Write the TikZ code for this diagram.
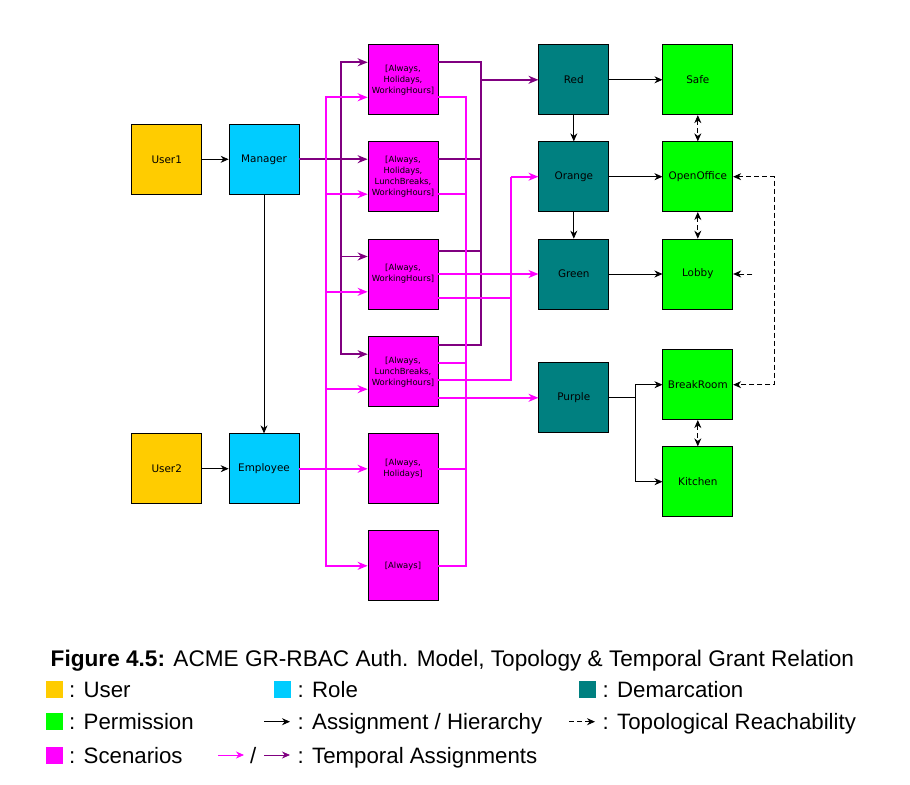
\documentclass[tikz,border=0pt]{standalone}
\usepackage{fontspec}
\setmainfont{Liberation Sans}
\newfontfamily\boxfont{DejaVu Sans}
\usetikzlibrary{arrows.meta}
\definecolor{usercol}{RGB}{255,204,0}
\definecolor{rolecol}{RGB}{0,204,255}
\definecolor{demcol}{RGB}{0,128,128}
\definecolor{permcol}{RGB}{0,255,0}
\definecolor{scencol}{RGB}{255,0,255}
\definecolor{tpurple}{RGB}{128,0,128}

\begin{document}
\begin{tikzpicture}[x=0.3mm, y=-0.3mm,
  >={Stealth[length=2.4mm,width=2.1mm]},
  box/.style={draw, line width=0.6pt, minimum width=21mm, minimum height=21mm, inner sep=0.5mm, font=\boxfont\fontsize{8.9}{10}\selectfont},
  scen/.style={box, fill=scencol, align=center, font=\boxfont\fontsize{7.2}{9.4}\selectfont},
  assign/.style={line width=0.7pt, ->},
  reach/.style={line width=0.7pt, dash pattern=on 1.5mm off 0.9mm},
  temppur/.style={draw=tpurple, line width=1.7pt, >={Stealth[length=3mm,width=2.4mm]}},
  tempmag/.style={draw=scencol, line width=1.7pt, >={Stealth[length=3mm,width=2.4mm]}},
  legsq/.style={minimum size=5.1mm, inner sep=0},
  legtxt/.style={anchor=base west, inner sep=0, font=\fontsize{19}{23}\selectfont}]
\useasboundingbox (0,0) rectangle (910,785);

\node [box, fill=usercol] (user1) at (166.7,159.3) {User1};
\node [box, fill=rolecol] (manager) at (264,159.3) {Manager};
\node [box, fill=usercol] (user2) at (166.7,468.7) {User2};
\node [box, fill=rolecol] (employee) at (264,468.7) {Employee};

\node [scen] (s1) at (403,79.8) {[Always,\\Holidays,\\WorkingHours]};
\node [scen] (s2) at (403,176.7) {[Always,\\Holidays,\\LunchBreaks,\\WorkingHours]};
\node [scen] (s3) at (403,274) {[Always,\\WorkingHours]};
\node [scen] (s4) at (403,371.7) {[Always,\\LunchBreaks,\\WorkingHours]};
\node [scen] (s5) at (403,468.8) {[Always,\\Holidays]};
\node [scen] (s6) at (403,565.8) {[Always]};

\node [box, fill=demcol] (red) at (573.8,79.8) {Red};
\node [box, fill=demcol] (orange) at (573.8,176.7) {Orange};
\node [box, fill=demcol] (green) at (573.8,274) {Green};
\node [box, fill=demcol] (purple) at (573.8,397.8) {Purple};

\node [box, fill=permcol] (safe) at (697.8,79.8) {Safe};
\node [box, fill=permcol] (openoffice) at (697.8,176.7) {OpenOffice};
\node [box, fill=permcol] (lobby) at (697.8,274) {Lobby};
\node [box, fill=permcol] (breakroom) at (697.8,384.7) {BreakRoom};
\node [box, fill=permcol] (kitchen) at (697.8,481.7) {Kitchen};

\coordinate (mbus) at (340.7,159.3);
\coordinate (ebus) at (325.7,468.7);
\coordinate (rbus) at (480.7,79.8);
\coordinate (gbus) at (465.7,274);
\coordinate (obus) at (511,176.7);
\coordinate (pbr) at (635.7,397.8);
\coordinate (rloop) at (774.3,280);
\coordinate (lobin) at (752.3,274);

\draw [temppur] (manager.east) -- (mbus);
\foreach \s in {s1,s2,s3,s4}
  \draw [temppur, ->] (mbus) |- ([yshift=5.25mm]\s.west);
\draw [tempmag] (employee.east) -- (ebus);
\foreach \s/\d in {s1/5.25,s2/5.25,s3/5.35,s4/5.25}
  \draw [tempmag, ->] (ebus) |- ([yshift=-\d mm]\s.west);
\foreach \s in {s5,s6}
  \draw [tempmag, ->] (ebus) |- (\s.west);

\draw [temppur] ([yshift=5.25mm]s1.east) -| (rbus);
\draw [temppur] ([yshift=5.25mm]s2.east) -| (rbus);
\draw [temppur] ([yshift=6.9mm]s3.east) -| (rbus);
\draw [temppur] ([yshift=8mm]s4.east) -| (rbus);
\draw [temppur, ->] (rbus) -- (red.west);

\draw [tempmag] ([yshift=-5.25mm]s1.east) -| (gbus);
\draw [tempmag] ([yshift=-5.25mm]s2.east) -| (gbus);
\draw [tempmag] ([yshift=2.6mm]s4.east) -| (gbus);
\draw [tempmag] (s5.east) -| (gbus);
\draw [tempmag] (s6.east) -| (gbus);
\draw [tempmag, ->] (s3.east) -- (green.west);
\draw [tempmag] ([yshift=-7.2mm]s3.east) -| (obus);
\draw [tempmag] ([yshift=-2.5mm]s4.east) -| (obus);
\draw [tempmag, ->] (obus) -- (orange.west);
\draw [tempmag, ->] (s4.east |- purple.west) -- (purple.west);

\draw [assign] (user1) edge (manager);
\draw [assign] (user2) edge (employee);
\draw [assign] (manager) edge (employee);
\draw [assign] (red) edge (orange);
\draw [assign] (orange) edge (green);
\draw [assign] (red) edge (safe);
\draw [assign] (orange) edge (openoffice);
\draw [assign] (green) edge (lobby);
\draw [line width=0.7pt] (purple.east) -- (pbr);
\draw [assign] (pbr) |- (breakroom.west);
\draw [assign] (pbr) |- (kitchen.west);

\draw [reach, <->] (safe) edge (openoffice);
\draw [reach, <->] (openoffice) edge (lobby);
\draw [reach, <->] (breakroom) edge (kitchen);
\draw [reach, <->] (openoffice.east) -| (rloop) |- (breakroom.east);
\draw [reach, ->] (lobin) -- (lobby.east);

\node [legtxt, font=\fontsize{19.3}{23}\selectfont] (caption) at (50.5,666.7) {\textbf{Figure 4.5:} ACME GR-RBAC Auth. Model, Topology \& Temporal Grant Relation};

\node [legsq, fill=usercol] (lguser) at (54.3,689.3) {};
\node [legtxt] (lgusertxt) at (69,697) {: User};
\node [legsq, fill=rolecol] (lgrole) at (282.5,689.3) {};
\node [legtxt] (lgroletxt) at (297.5,697) {: Role};
\node [legsq, fill=demcol] (lgdem) at (587.3,689.3) {};
\node [legtxt] (lgdemtxt) at (602.5,697) {: Demarcation};

\node [legsq, fill=permcol] (lgperm) at (54.3,721.7) {};
\node [legtxt] (lgpermtxt) at (69,729.7) {: Permission};
\coordinate (lgasgA) at (264,721.7);
\coordinate (lgasgB) at (290,721.7);
\draw [assign] (lgasgA) -- (lgasgB);
\node [legtxt] (lgasgtxt) at (297.5,729.7) {: Assignment / Hierarchy};
\coordinate (lgtopA) at (569,721.7);
\coordinate (lgtopB) at (595,721.7);
\draw [reach, ->] (lgtopA) -- (lgtopB);
\node [legtxt] (lgtoptxt) at (602.5,729.7) {: Topological Reachability};

\node [legsq, fill=scencol] (lgscen) at (54.3,755) {};
\node [legtxt] (lgscentxt) at (69,763) {: Scenarios};
\coordinate (lgmagA) at (218.3,755);
\coordinate (lgmagB) at (244,755);
\draw [assign, draw=scencol] (lgmagA) -- (lgmagB);
\node [legtxt] (lgslash) at (250,763) {/};
\coordinate (lgpurA) at (264,755);
\coordinate (lgpurB) at (290,755);
\draw [assign, draw=tpurple] (lgpurA) -- (lgpurB);
\node [legtxt] (lgtemptxt) at (297.5,763) {: Temporal Assignments};
\end{tikzpicture}
\end{document}
